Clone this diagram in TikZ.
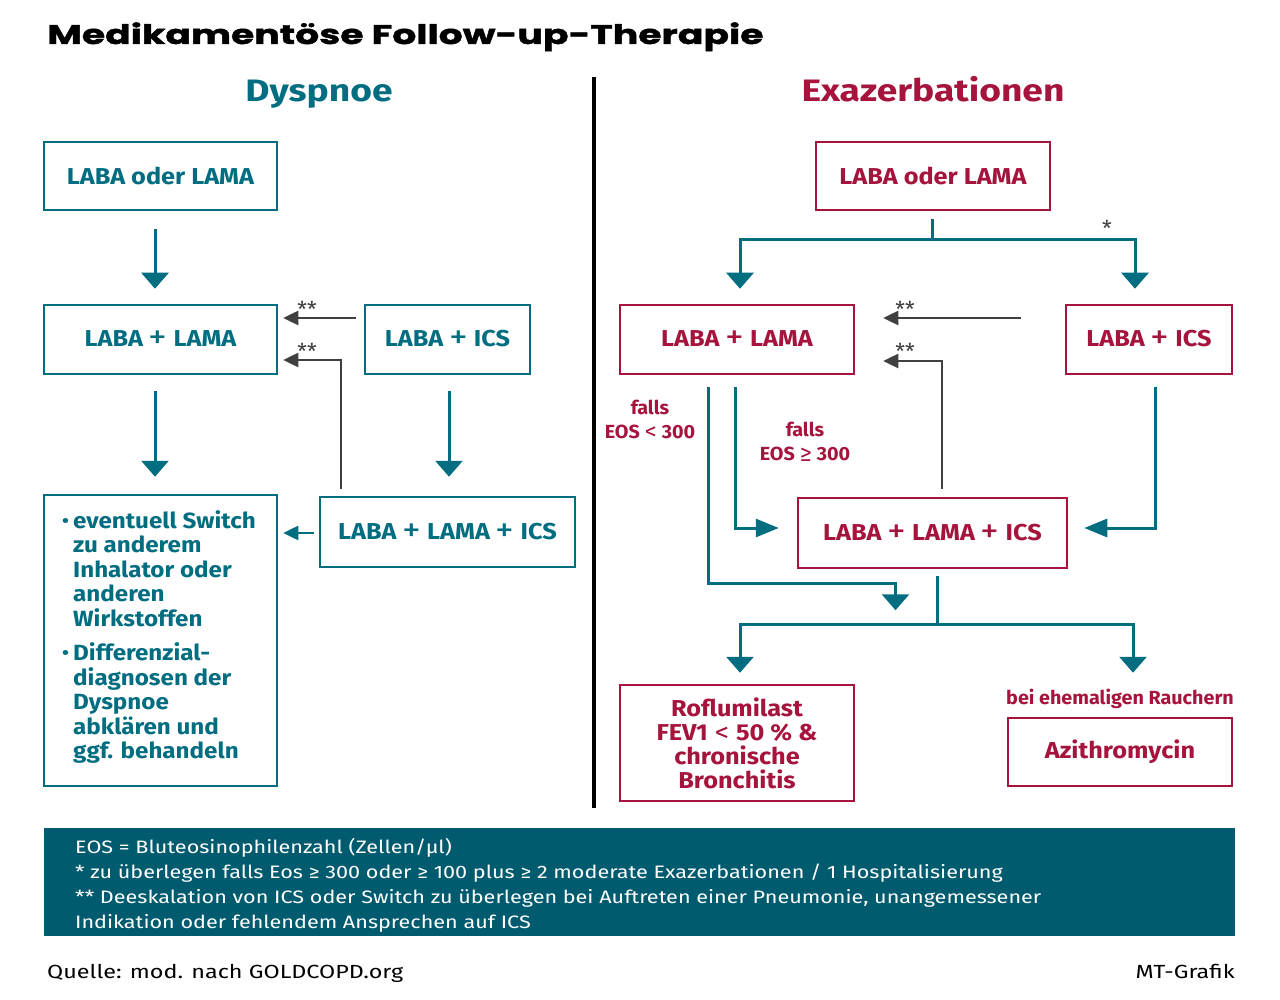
\documentclass[tikz,border=0pt]{standalone}
\usepackage{fontspec}
\setmainfont{Fira Sans}
\newfontfamily\titlefont{Poppins}[FakeStretch=1.40,FakeBold=1.5]
\newfontfamily\boxfont{Fira Sans}[FakeStretch=1.1]
\newfontfamily\lblfont{Fira Sans}[FakeStretch=1.04]
\newfontfamily\headfont{Fira Sans}[FakeStretch=1.2]
\newfontfamily\footfont{Fira Sans}[FakeStretch=1.2]
\newfontfamily\srcfont{Fira Sans}[FakeStretch=1.23]
\newcommand\pls{\hspace{6pt}\raisebox{-2pt}{\mdseries\fontsize{34}{24}\selectfont +}\hspace{6pt}}
\newcommand\bigrel[1]{\hspace{7pt}\raisebox{-1pt}{\mdseries\fontsize{26}{24}\selectfont #1}\hspace{7pt}}
\newcommand\smrel[1]{\hspace{5pt}\raisebox{-1pt}{\mdseries\fontsize{23}{24}\selectfont #1}\hspace{5pt}}
\usetikzlibrary{arrows.meta,calc}
\definecolor{teal1}{RGB}{0,110,128}
\definecolor{band}{RGB}{0,91,110}
\definecolor{red1}{RGB}{166,19,60}
\definecolor{grey1}{RGB}{64,64,64}
\begin{document}
\begin{tikzpicture}[x=1pt,y=-1pt,
  boxbase/.style={line width=2.5pt,inner sep=0pt,font=\boxfont\fontsize{23}{24}\selectfont\bfseries},
  tbox/.style={boxbase,draw=teal1,text=teal1},
  rbox/.style={boxbase,draw=red1,text=red1},
  tline/.style={draw=teal1,line width=3pt},
  tarr/.style={tline,-{Triangle[width=27pt,length=16pt]}},
  tarrs/.style={tline,-{Triangle[width=18pt,length=23pt]}},
  tarrx/.style={tline,line width=2.5pt,-{Triangle[width=14pt,length=15pt]}},
  garr/.style={draw=grey1,line width=2.5pt,-{Triangle[width=14pt,length=15pt]}},
  star/.style={text=grey1,font=\fontsize{22}{22}\selectfont,inner sep=0pt},
  rlabel/.style={text=red1,font=\lblfont\fontsize{19}{24}\selectfont\bfseries,align=center,inner sep=0pt},
  head/.style={font=\headfont\fontsize{31}{32}\selectfont\bfseries,inner sep=0pt,anchor=base}
]
\useasboundingbox (0,0) rectangle (1280,1000);
\fill[white] (0,0) rectangle (1280,1000);

% title
\node[anchor=base west,inner sep=0pt,font=\titlefont\bfseries\fontsize{27}{28}\selectfont] (title) at (47,44) {Medikamentöse Follow-up-Therapie};

% headings
\node[head,text=teal1] (hd) at (319,102) {Dyspnoe};
\node[head,text=red1] (he) at (933,102) {Exazerbationen};

% divider
\coordinate (dtop) at (594,77);
\coordinate (dbot) at (594,808);
\draw[line width=4pt,black] (dtop) -- (dbot);

% left boxes
\node[tbox,minimum width=233pt,minimum height=68pt] (L1) at (160.5,176) {LABA oder LAMA};
\node[tbox,minimum width=233pt,minimum height=69pt] (L2) at (160.5,339.5) {LABA\pls LAMA};
\node[tbox,minimum width=165pt,minimum height=69pt] (L3) at (447.5,339.5) {LABA\pls ICS};
\node[tbox,minimum width=233pt,minimum height=291pt] (L4) at (160.5,640.5) {};
\node[tbox,minimum width=255pt,minimum height=70pt] (L5) at (447.5,532) {LABA\pls LAMA\pls ICS};
\node[anchor=north west,inner sep=0pt,text=teal1,align=left,font=\boxfont\fontsize{22}{24.5}\selectfont\bfseries] (L4t) at (73,510)
 {\llap{{\mdseries\textbullet}\,}eventuell Switch\\zu anderem\\Inhalator oder\\anderen\\Wirkstoffen\\[10pt]
  \llap{{\mdseries\textbullet}\,}Differenzial-\\diagnosen der\\Dyspnoe\\abklären und\\ggf. behandeln};

% left connectors
\draw[tarr] ($(L1.south)+(-5.5,18)$) -- ($(L2.north)+(-5.5,-15)$);
\draw[tarr] ($(L2.south)+(-5.5,16)$) -- ($(L4.north)+(-5.5,-17)$);
\draw[tarr] ($(L3.south)+(1.5,16)$) -- ($(L5.north)+(1.5,-19)$);
\draw[tarrx] ($(L5.west)+(-5,1)$) -- ($(L4.east |- L5.west)+(5,1)$);
\draw[garr] ($(L3.west)+(-8,-21.5)$) -- ($(L2.east)+(5,-21.5)$);
\draw[garr] ($(L5.north west)+(22,-7)$) |- ($(L2.east)+(5,20.5)$);
\node[star] (s1) at (307,309) {**};
\node[star] (s2) at (307,351) {**};

% right boxes
\node[rbox,minimum width=234pt,minimum height=68pt] (R1) at (933,176) {LABA oder LAMA};
\node[rbox,minimum width=234pt,minimum height=69pt] (R2) at (737,339.5) {LABA\pls LAMA};
\node[rbox,minimum width=166pt,minimum height=69pt] (R3) at (1149,339.5) {LABA\pls ICS};
\node[rbox,minimum width=269pt,minimum height=70pt] (R4) at (932.5,533) {LABA\pls LAMA\pls ICS};
\node[rbox,minimum width=234pt,minimum height=116pt,align=center] (R5) at (737,743) {Roflumilast\\FEV1\bigrel{<}50 \% \&\\chronische\\Bronchitis};
\node[rbox,minimum width=224pt,minimum height=68pt] (R6) at (1120,752) {Azithromycin};
\node[rlabel,anchor=base] (R6l) at (1120,704) {bei ehemaligen Rauchern};

% right connectors
\draw[tline] ($(R1.south)+(-1,8)$) -- ($(R1.south)+(-1,28)$) coordinate (rj1);
\draw[tarr] (rj1) -| ($(R2.north)+(3,-15)$);
\draw[tarr] (rj1) -| ($(R3.north)+(-14,-15)$);
\node[star] (s0) at (1107,228) {*};
\draw[garr] ($(R3.west)+(-44,-21.5)$) -- ($(R2.east)+(28,-21.5)$);
\draw[garr] ($(R4.north)+(9.5,-8)$) |- ($(R2.east)+(28,21.5)$);
\node[star] (s3) at (905,309) {**};
\node[star] (s4) at (905,351) {**};
\draw[tarrs] ($(R2.south)+(-2,12)$) |- ($(R4.west)+(-18,-5)$);
\draw[tarr] ($(R2.south)+(-29,12)$) |- ($(R4.south)+(-37,14)$) -- ($(R4.south)+(-37,41)$);
\draw[tarrs] ($(R3.south)+(6,12)$) |- ($(R4.east)+(16,-5)$);
\draw[tline] ($(R4.south)+(4.5,7)$) -- ($(R4.south)+(4.5,55)$) coordinate (rj2);
\draw[tarr] (rj2) -| ($(R5.north)+(3,-11)$);
\draw[tarr] (rj2) -| ($(R6.north)+(13,-44)$);
\node[rlabel] (f1) at (650,420) {falls\\EOS\smrel{<}300};
\node[rlabel] (f2) at (805,442) {falls\\EOS\smrel{≥}300};

% footer band
\node[fill=band,minimum width=1191pt,minimum height=108pt,inner sep=0pt] (band) at (639.5,882) {};
\node[anchor=north west,inner sep=0pt,text=white,align=left,font=\footfont\fontsize{18}{25}\selectfont] (bt) at (75,838)
 {EOS = Bluteosinophilenzahl (Zellen/µl)\\
  * zu überlegen falls Eos ≥ 300 oder ≥ 100 plus ≥ 2 moderate Exazerbationen / 1 Hospitalisierung\\
  ** Deeskalation von ICS oder Switch zu überlegen bei Auftreten einer Pneumonie, unangemessener\\
  Indikation oder fehlendem Ansprechen auf ICS};

\node[anchor=base west,inner sep=0pt,font=\srcfont\fontsize{19}{20}\selectfont] (q) at (47,978) {Quelle: mod. nach GOLDCOPD.org};
\node[anchor=base east,inner sep=0pt,font=\srcfont\fontsize{19}{20}\selectfont] (mt) at (1235,978) {MT-Grafik};
\end{tikzpicture}
\end{document}
